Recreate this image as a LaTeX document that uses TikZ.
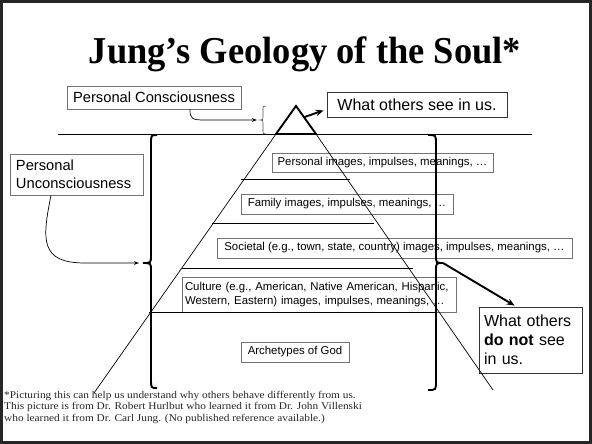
\documentclass[tikz,border=0pt]{standalone}
\usepackage{fontspec}
\setmainfont{Liberation Serif}
\newfontfamily\arialf{Liberation Sans}
\newfontfamily\titlef[FakeStretch=0.96]{Liberation Serif}
\newfontfamily\fnf[FakeStretch=1.1]{Liberation Serif}
\usetikzlibrary{arrows.meta,calc}
\begin{document}
\begin{tikzpicture}[x=1pt,y=-1pt,
  lbl/.style={draw=black!55, line width=0.8pt, inner sep=0pt, font=\arialf\fontsize{11.4}{13.5}\selectfont, align=center},
  big/.style={draw=black!80, line width=0.8pt, inner sep=0pt, font=\arialf\fontsize{16}{19}\selectfont},
  thinline/.style={line width=0.7pt},
  heavy/.style={line width=1.9pt},
  fnote/.style={anchor=base west, inner sep=0pt, text=black!85, font=\fnf\fontsize{10.3}{11.5}\selectfont},
  tip/.style={-{Stealth[length=5pt,width=3.6pt]}},
  bigtip/.style={-{Stealth[length=8pt,width=6.5pt]}}
]
\useasboundingbox (0,0) rectangle (592,444);
\draw[black!85, line width=3pt] (1.5,1.5) rectangle (590.5,442.5);

% title
\node[anchor=base, inner sep=0pt, font=\titlef\bfseries\fontsize{38}{38}\selectfont] (title) at (305,64) {Jung’s Geology of the Soul*};

% labels
\node[lbl, minimum width=174pt, minimum height=23pt, font=\arialf\fontsize{14.7}{17}\selectfont] (pc) at (154,97.5) {Personal Consciousness};
\node[big, minimum width=180pt, minimum height=25pt] (ws) at (417,104.5) {What others see in us.};
\node[lbl, minimum width=133pt, minimum height=41pt, font=\arialf\fontsize{14.7}{18}\selectfont, align=left, text width=121pt] (pu) at (76.5,174.5) {Personal\\Unconsciousness};
\node[big, minimum width=103pt, minimum height=66pt, align=left, text width=93pt] (wn) at (530.5,340) {What others\\\textbf{do not} see\\in us.};

% layers
\node[lbl, minimum width=221pt, minimum height=19pt] (l1) at (382.5,162.5) {Personal images, impulses, meanings, …};
\node[lbl, minimum width=212pt, minimum height=20pt] (l2) at (347,204) {Family images, impulses, meanings, …};
\node[lbl, minimum width=355pt, minimum height=20pt] (l3) at (394.5,248) {Societal (e.g., town, state, country) images, impulses, meanings, …};
\node[lbl, minimum width=274pt, minimum height=35pt, align=left, text width=268pt] (l4) at (319,294.5) {Culture (e.g., American, Native American, Hispanic,\\Western, Eastern) images, impulses, meanings, …};
\node[lbl, minimum width=108pt, minimum height=20pt] (l5) at (295,352) {Archetypes of God};

% ground line and separators
\coordinate (g1) at (58,134); \coordinate (g2) at (532,134);
\draw[line width=0.9pt] (g1) -- (g2);
\coordinate (s1a) at (241,179); \coordinate (s1b) at (350,179);
\coordinate (s2a) at (212,223); \coordinate (s2b) at (374,223);
\coordinate (s3a) at (182,268); \coordinate (s3b) at (413,268);
\coordinate (s4a) at (149,312); \coordinate (s4b) at (437,312);
\draw[line width=0.9pt] (s1a) -- (s1b) (s2a) -- (s2b) (s3a) -- (s3b) (s4a) -- (s4b);

% pyramid
\coordinate (apex) at (296,106);
\coordinate (tl) at (276,134);
\coordinate (tr) at (316,134);
\coordinate (pl) at (94,393);
\coordinate (pr) at (493,390);
\draw[thinline] (tl) -- (pl) (tr) -- (pr);
\draw[heavy, line join=miter] (apex) -- (tl) -- (tr) -- cycle;

% small brace
\coordinate (sb) at (260,120);
\draw[line width=0.6pt, black!70] (266,106) .. controls (263,106) .. (263,110) -- (263,117) .. controls (263,120) .. (sb) .. controls (263,120) .. (263,123) -- (263,130) .. controls (263,134) .. (266,134);

% left brace
\coordinate (lb) at (143,263);
\draw[heavy] (157,135) .. controls (151,135) .. (151,144) -- (151,255) .. controls (151,263) .. (lb) .. controls (151,263) .. (151,271) -- (151,379) .. controls (151,388) .. (157,388);

% right brace
\coordinate (rb) at (443,263);
\draw[heavy] (428,135) .. controls (436,135) .. (436,144) -- (436,255) .. controls (436,263) .. (rb) .. controls (436,263) .. (436,271) -- (436,381) .. controls (436,390) .. (428,390);

% connectors
\draw[thinline, tip] ([xshift=36pt]pc.south) .. controls (190,119) and (192,120) .. (205,120) -- ($(sb)+(-3,0)$);
\draw[thinline, tip] ([xshift=-25.5pt]pu.south) .. controls (42,240) and (40,263) .. (85,263) -- ($(lb)+(-4,0)$);
\draw[heavy, bigtip] ($(apex)!0.4!(tr)$) -- ($(ws.south west)+(-3,-7)$);
\draw[heavy, bigtip] (rb) -- ($(wn.north west)+(36,-1)$);

% footnote
\node[fnote] (fn1) at (4,398) {*Picturing this can help us understand why others behave differently from us.};
\node[fnote] (fn2) at (4,409.5) {This picture is from Dr. Robert Hurlbut who learned it from Dr. John Villenski};
\node[fnote] (fn3) at (4,421) {who learned it from Dr. Carl Jung. (No published reference available.)};
\end{tikzpicture}
\end{document}
